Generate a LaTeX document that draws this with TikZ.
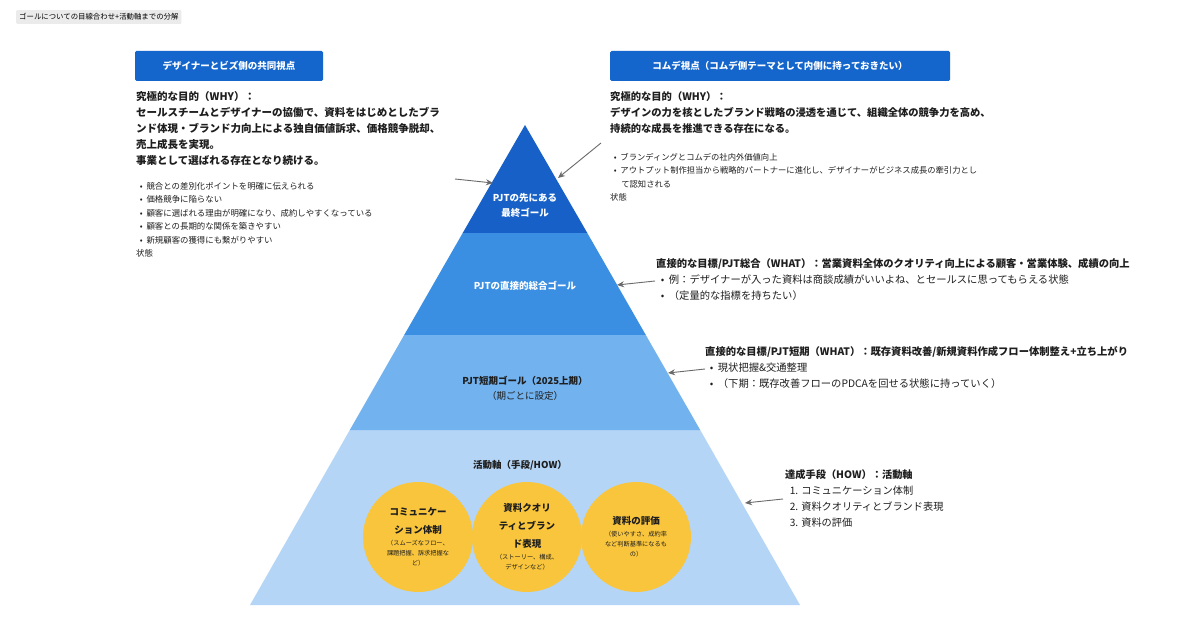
\documentclass[tikz,border=0pt]{standalone}
\usepackage{fontspec}
\setmainfont{Noto Sans CJK JP}
\usetikzlibrary{arrows.meta}
\definecolor{b1}{HTML}{1660C8}
\definecolor{b2}{HTML}{3A8FE3}
\definecolor{b3}{HTML}{72B2EF}
\definecolor{b4}{HTML}{B4D5F6}
\definecolor{hdr}{HTML}{1466CC}
\definecolor{yel}{HTML}{F9C53C}
\definecolor{txt}{HTML}{1E1E1E}
\definecolor{arr}{HTML}{6A6A6A}
\newcommand{\smf}{\fontsize{6.2}{10}\selectfont\mdseries}
\newcommand{\nb}{\mdseries}
\begin{document}
\begin{tikzpicture}[x=1pt,y=-1pt,
  hdr/.style={fill=hdr,rounded corners=1.5pt,text=white,font=\fontsize{9.5}{11}\selectfont\bfseries,minimum height=30pt,inner sep=0},
  why/.style={anchor=north west,align=left,text=txt,font=\fontsize{10.5}{16}\selectfont\bfseries,inner sep=0},
  bul/.style={anchor=north west,align=left,text=txt,font=\fontsize{8.4}{13.5}\selectfont,inner sep=0},
  lvl/.style={text=white,font=\fontsize{9.5}{15}\selectfont\bfseries,align=center,inner sep=0},
  circ/.style={circle,fill=yel,minimum size=110pt,inner sep=0,align=center,text=txt,font=\fontsize{9.5}{10}\selectfont\bfseries},
  ar/.style={arr,line width=0.9pt,-{Stealth[length=7pt,width=6pt]}}]
\useasboundingbox (0,0) rectangle (1200,628);
\fill[white] (0,0) rectangle (1200,628);
\node[fill=black!8,rounded corners=1pt,anchor=west,font=\fontsize{7.4}{8}\selectfont,inner xsep=3pt,minimum height=12pt] (title) at (16,17) {ゴールについての目線合わせ+活動軸までの分解};
\fill[b4] (250,605) -- (800,605) -- (700.2,430) -- (349.8,430) -- cycle;
\fill[b3] (349.8,430) -- (700.2,430) -- (645.8,335) -- (404.2,335) -- cycle;
\fill[b2] (404.2,335) -- (645.8,335) -- (587.3,233) -- (462.7,233) -- cycle;
\fill[b1] (462.7,233) -- (587.3,233) -- (525,125) -- cycle;
\node[lvl] (l1) at (525,205) {PJTの先にある\\最終ゴール};
\node[lvl] (l2) at (525,286) {PJTの直接的総合ゴール};
\node[lvl,text=txt] (l3) at (525,388) {PJT短期ゴール（2025上期）\\ \nb （期ごとに設定）};
\node[lvl,text=txt] (l4) at (520,465) {活動軸（手段/HOW）};
\node[circ] (c1) at (418,537) {コミュニケー\\[8pt]ション体制\\[2pt] \smf （スムーズなフロー、\\ \smf 課題把握、訴求把握な\\ \smf ど）};
\node[circ] (c2) at (527,537) {資料クオリ\\[8pt]ティとブラン\\[8pt]ド表現\\[2pt] \smf （ストーリー、構成、\\ \smf デザインなど）};
\node[circ] (c3) at (636,537) {資料の評価\\[2pt] \smf （使いやすさ、成約率\\ \smf など判断基準になるも\\ \smf の）};
\node[hdr,minimum width=188pt] (h1) at (229,66) {デザイナーとビズ側の共同視点};
\node[hdr,minimum width=340pt] (h2) at (780,66) {コムデ視点（コムデ側テーマとして内側に持っておきたい）};
\node[why] (w1) at (136,91) {究極的な目的（WHY）：\\セールスチームとデザイナーの協働で、資料をはじめとしたブラ\\ンド体現・ブランド力向上による独自価値訴求、価格競争脱却、\\売上成長を実現。\\事業として選ばれる存在となり続ける。};
\node[bul] (s1) at (136,182) {\ \ • \ 競合との差別化ポイントを明確に伝えられる\\\ \ • \ 価格競争に陥らない\\\ \ • \ 顧客に選ばれる理由が明確になり、成約しやすくなっている\\\ \ • \ 顧客との長期的な関係を築きやすい\\\ \ • \ 新規顧客の獲得にも繋がりやすい\\状態};
\node[why,font=\fontsize{10.3}{16}\selectfont\bfseries] (w2) at (610,91) {究極的な目的（WHY）：\\デザインの力を核としたブランド戦略の浸透を通じて、組織全体の競争力を高め、\\持続的な成長を推進できる存在になる。};
\node[bul,font=\fontsize{8.3}{13.5}\selectfont] (s2) at (610,153) {\ \ • \ ブランディングとコムデの社内外価値向上\\\ \ • \ アウトプット制作担当から戦略的パートナーに進化し、デザイナーがビジネス成長の牽引力とし\\\ \ \ \ \ \ て認知される\\状態};
\node[why,font=\fontsize{10.3}{16}\selectfont\bfseries] (t2) at (656,258) {直接的な目標/PJT総合（WHAT）：営業資料全体のクオリティ向上による顧客・営業体験、成績の向上\\ \nb \ \ • \ 例：デザイナーが入った資料は商談成績がいいよね、とセールスに思ってもらえる状態\\ \nb \ \ • \ （定量的な指標を持ちたい）};
\node[why,font=\fontsize{10.3}{16}\selectfont\bfseries] (t3) at (705,346) {直接的な目標/PJT短期（WHAT）：既存資料改善/新規資料作成フロー体制整え+立ち上がり\\ \nb \ \ • \ 現状把握\&交通整理\\ \nb \ \ • \ （下期：既存改善フローのPDCAを回せる状態に持っていく）};
\node[why,font=\fontsize{10.2}{16}\selectfont\bfseries] (t4) at (785,469) {達成手段（HOW）：活動軸\\ \nb \ \ 1. コミュニケーション体制\\ \nb \ \ 2. 資料クオリティとブランド表現\\ \nb \ \ 3. 資料の評価};
\coordinate (a1s) at (455,179); \coordinate (a1e) at (493,183);
\coordinate (a2s) at (601,143); \coordinate (a2e) at (558,178);
\coordinate (a3s) at (655,281); \coordinate (a3e) at (617,285);
\coordinate (a4s) at (705,369); \coordinate (a4e) at (668,373);
\coordinate (a5s) at (783,499); \coordinate (a5e) at (745,503);
\draw[ar] (a1s) -- (a1e);
\draw[ar] (a2s) -- (a2e);
\draw[ar] (a3s) -- (a3e);
\draw[ar] (a4s) -- (a4e);
\draw[ar] (a5s) -- (a5e);
\end{tikzpicture}
\end{document}
